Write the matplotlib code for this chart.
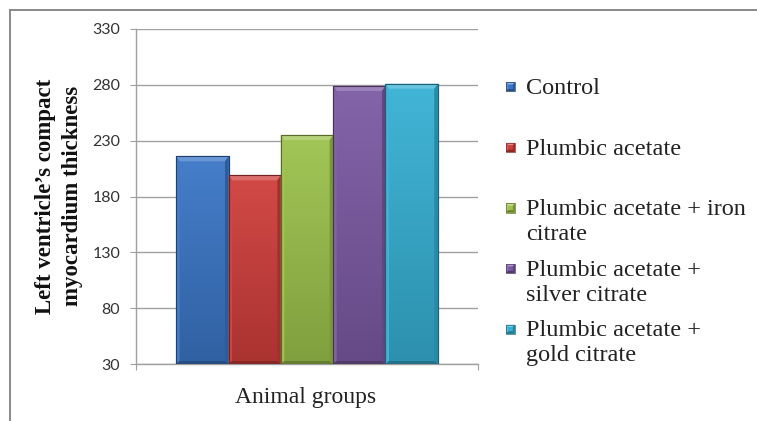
import numpy as np
import matplotlib
matplotlib.use("Agg")
import matplotlib.pyplot as plt
from matplotlib.colors import to_rgb
from matplotlib.patches import Rectangle, Polygon
from matplotlib.lines import Line2D
from matplotlib.legend_handler import HandlerBase
from matplotlib.font_manager import FontProperties

# ---- data -------------------------------------------------------------
groups = [
    "Control",
    "Plumbic acetate",
    "Plumbic acetate + iron\ncitrate",
    "Plumbic acetate +\nsilver citrate",
    "Plumbic acetate +\ngold citrate",
]
thickness = [216, 199, 235, 279, 281]
bar_colors = ["#3a76c6", "#cf3e3b", "#9cc24c", "#7c5aa4", "#36b0d4"]
y_ticks = [30, 80, 130, 180, 230, 280, 330]
x_title = "Animal groups"
y_title = "Left ventricle\u2019s compact\nmyocardium thickness"

W, H = 757, 421
fig = plt.figure(figsize=(W / 100, H / 100), dpi=100)
fig.patch.set_facecolor("white")

# plot area in pixel coordinates
ax_l, ax_r, ax_t, ax_b = 136, 478, 29, 364
ax = fig.add_axes([ax_l / W, 1 - ax_b / H, (ax_r - ax_l) / W, (ax_b - ax_t) / H])

ymin, ymax = y_ticks[0], y_ticks[-1]
ax.set_ylim(ymin, ymax)
ax.set_xlim(-0.5, 0.5)

n = len(groups)
bw = 0.153
xs = (np.arange(n) - (n - 1) / 2) * bw


def mix(c, other, t):
    c = np.array(to_rgb(c))
    o = np.array(to_rgb(other))
    return tuple(c * (1 - t) + o * t)


bars = ax.bar(xs, [v - ymin for v in thickness], bottom=ymin, width=bw,
              color=bar_colors, edgecolor=[mix(c, "black", 0.45) for c in bar_colors],
              linewidth=0.8, zorder=3, label="_nolegend_")

# pixel -> data conversions for the bevel sizes
px_x = (ax.get_xlim()[1] - ax.get_xlim()[0]) / (ax_r - ax_l)
px_y = (ymax - ymin) / (ax_b - ax_t)
dx, dy_top, dy_bot = 3.5 * px_x, 5.0 * px_y, 3.0 * px_y

for rect, col in zip(bars.patches, bar_colors):
    x0, y0 = rect.get_x(), rect.get_y()
    x1, y1 = x0 + rect.get_width(), y0 + rect.get_height()
    # vertical shading: lighter at top, darker at bottom
    t = np.linspace(0, 1, 128)[:, None]
    top_c = np.array(mix(col, "white", 0.06))
    bot_c = np.array(mix(col, "black", 0.18))
    grad = top_c * (1 - t[..., None]) + bot_c * t[..., None]
    grad = np.repeat(grad, 4, axis=1)
    im = ax.imshow(grad, extent=[x0, x1, y0, y1], origin="upper",
                   aspect="auto", zorder=3.1, interpolation="bilinear")
    im.set_clip_path(rect)
    # bevel faces
    faces = [
        ([(x0, y1), (x1, y1), (x1 - dx, y1 - dy_top), (x0 + dx, y1 - dy_top)],
         mix(col, "white", 0.25)),
        ([(x0, y0), (x0, y1), (x0 + dx, y1 - dy_top), (x0 + dx, y0 + dy_bot)],
         mix(col, "white", 0.04)),
        ([(x1, y0), (x1, y1), (x1 - dx, y1 - dy_top), (x1 - dx, y0 + dy_bot)],
         mix(col, "black", 0.22)),
        ([(x0, y0), (x1, y0), (x1 - dx, y0 + dy_bot), (x0 + dx, y0 + dy_bot)],
         mix(col, "black", 0.35)),
    ]
    for pts, fc in faces:
        ax.add_patch(Polygon(pts, closed=True, facecolor=fc, edgecolor="none",
                             zorder=3.2))
    ax.add_patch(Rectangle((x0, y0), x1 - x0, y1 - y0, facecolor="none",
                           edgecolor=mix(col, "black", 0.45), linewidth=0.8,
                           zorder=3.3))

ax.set_xlim(-0.5, 0.5)
ax.set_ylim(ymin, ymax)

# axes styling
grid_c = "#a0a0a0"
ax.set_yticks(y_ticks)
ax.yaxis.grid(True, color=grid_c, linewidth=1.0, zorder=0)
ax.set_axisbelow(True)
for s in ("top", "right"):
    ax.spines[s].set_visible(False)
for s in ("left", "bottom"):
    ax.spines[s].set_color(grid_c)
    ax.spines[s].set_linewidth(1.0)
ax.set_xticks([-0.5, 0.5])
ax.set_xticklabels([])
ax.tick_params(axis="both", direction="out", length=4.3, width=0.8, color=grid_c)
ax.tick_params(axis="y", pad=7, labelsize=11.5, labelcolor="#333333",
               labelfontfamily="Lato")

# titles
serif = "Liberation Serif"
fig.text(306 / W, 1 - 403 / H, x_title, ha="center", va="baseline",
         family=serif, fontsize=17, color="#222222")
fig.text(59 / W, 1 - 196 / H, y_title, ha="center", va="center", rotation=90,
         family=serif, fontweight="bold", fontsize=16.5,
         color="#111111", linespacing=1.4, multialignment="center")

LEG_SIZE = 17.5
LEG_LINESPACING = 1.25


# legend keys: small bevelled squares sitting on the first text line
class BevelSquare(HandlerBase):
    def create_artists(self, legend, orig_handle, xdescent, ydescent, width,
                       height, fontsize, trans):
        col = orig_handle.get_facecolor()
        s = 6.5
        lift = 0.5 * LEG_SIZE * LEG_LINESPACING * 0.9
        cy = height / 2 - ydescent + lift
        x0, y0 = -xdescent, cy - s / 2
        x1, y1 = x0 + s, y0 + s
        b = 1.6
        arts = [Rectangle((x0, y0), s, s, facecolor=col, edgecolor="none")]
        faces = [
            ([(x0, y1), (x1, y1), (x1 - b, y1 - b), (x0 + b, y1 - b)], mix(col, "white", 0.4)),
            ([(x0, y0), (x0, y1), (x0 + b, y1 - b), (x0 + b, y0 + b)], mix(col, "white", 0.15)),
            ([(x1, y0), (x1, y1), (x1 - b, y1 - b), (x1 - b, y0 + b)], mix(col, "black", 0.25)),
            ([(x0, y0), (x1, y0), (x1 - b, y0 + b), (x0 + b, y0 + b)], mix(col, "black", 0.35)),
        ]
        for pts, fc in faces:
            arts.append(Polygon(pts, closed=True, facecolor=fc, edgecolor="none"))
        arts.append(Rectangle((x0, y0), s, s, facecolor="none",
                              edgecolor=mix(col, "black", 0.4), linewidth=0.5))
        for a in arts:
            a.set_transform(trans)
        return arts


keys = [Rectangle((0, 0), 1, 1, facecolor=c) for c in bar_colors]
labels = [g if "\n" in g else g + "\n" for g in groups]
leg = ax.legend(keys, labels, loc="upper left",
                bbox_to_anchor=(506 / W, 1 - 78 / H), bbox_transform=fig.transFigure,
                frameon=False, borderpad=0, borderaxespad=0,
                handler_map={Rectangle: BevelSquare()},
                handlelength=0.42, handleheight=0.7, handletextpad=0.4,
                labelspacing=0.6,
                prop=FontProperties(family=serif, size=LEG_SIZE))
for txt in leg.get_texts():
    txt.set_color("#222222")
    txt.set_fontfamily(serif)
    txt.set_linespacing(LEG_LINESPACING)

# outer chart frame (only top and left edges are visible)
fig.add_artist(Line2D([10 / W, 10 / W], [0, 1 - 10 / H], transform=fig.transFigure,
                      color="#8a8a8a", linewidth=1.4))
fig.add_artist(Line2D([10 / W, 1], [1 - 10 / H, 1 - 10 / H], transform=fig.transFigure,
                      color="#8a8a8a", linewidth=1.4))

fig.savefig("out.png", dpi=100)
